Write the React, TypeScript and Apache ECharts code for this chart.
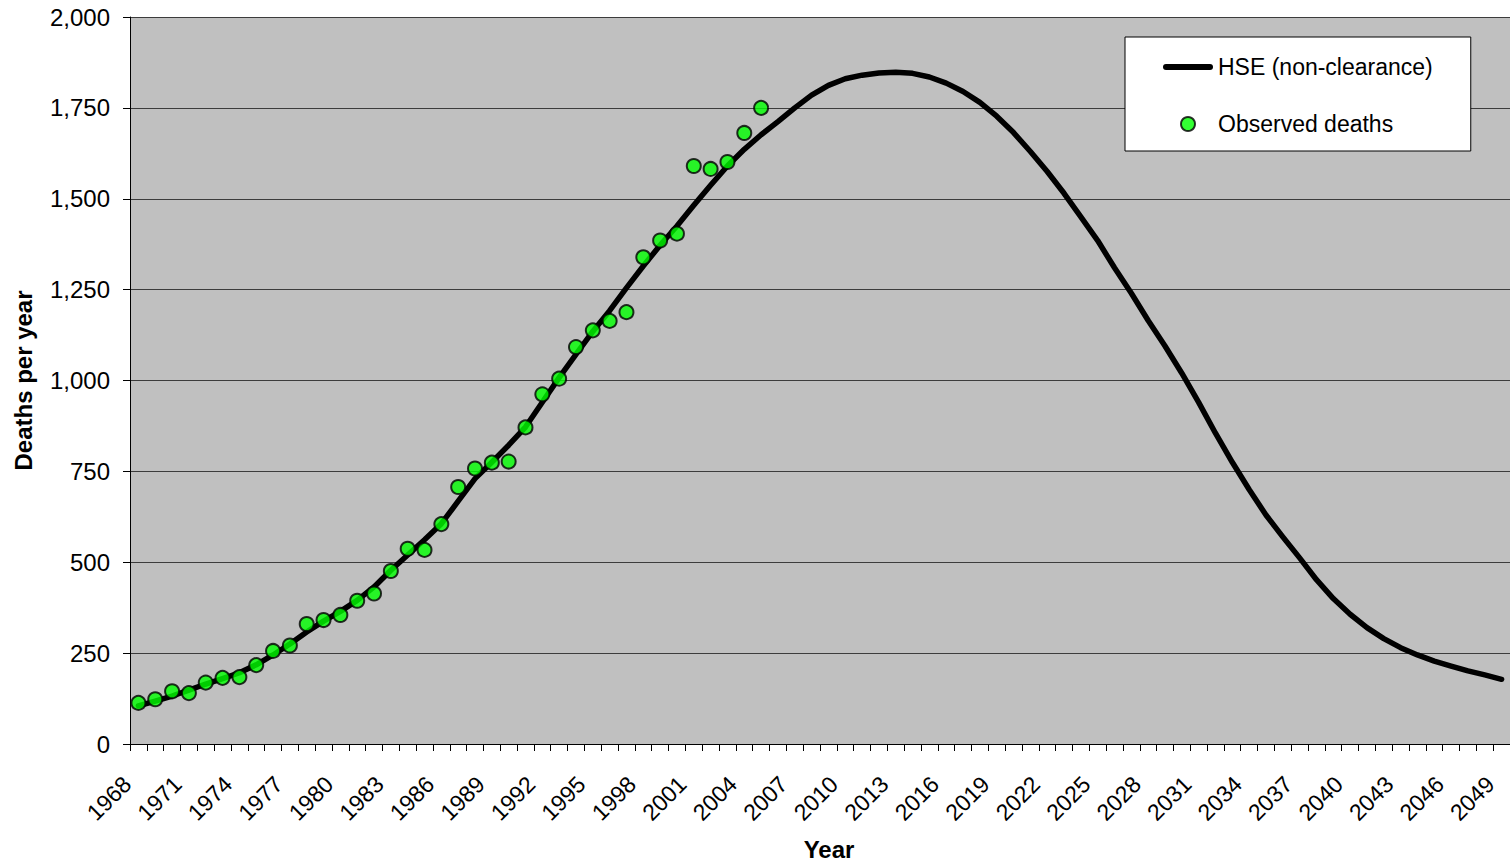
import React, { useEffect, useRef } from "react";
import * as echarts from "echarts";

const years: string[] = [
  "1968", "1969", "1970", "1971", "1972", "1973", "1974", "1975", "1976", "1977",
  "1978", "1979", "1980", "1981", "1982", "1983", "1984", "1985", "1986", "1987",
  "1988", "1989", "1990", "1991", "1992", "1993", "1994", "1995", "1996", "1997",
  "1998", "1999", "2000", "2001", "2002", "2003", "2004", "2005", "2006", "2007",
  "2008", "2009", "2010", "2011", "2012", "2013", "2014", "2015", "2016", "2017",
  "2018", "2019", "2020", "2021", "2022", "2023", "2024", "2025", "2026", "2027",
  "2028", "2029", "2030", "2031", "2032", "2033", "2034", "2035", "2036", "2037",
  "2038", "2039", "2040", "2041", "2042", "2043", "2044", "2045", "2046", "2047",
  "2048", "2049",
];

const hseProjection: number[] = [
  105, 118, 132, 148, 165, 180, 196, 218, 245, 275,
  308, 338, 365, 395, 432, 478, 520, 562, 606, 668,
  730, 775, 822, 872, 940, 1008, 1072, 1135, 1192, 1255,
  1315, 1372, 1425, 1482, 1537, 1590, 1636, 1676, 1712, 1750,
  1785, 1812, 1830, 1840, 1846, 1848, 1845, 1835, 1818, 1795,
  1765, 1727, 1682, 1630, 1575, 1515, 1450, 1385, 1310, 1240,
  1165, 1095, 1020, 940, 855, 775, 700, 630, 570, 512,
  452, 400, 357, 320, 290, 265, 245, 228, 214, 201,
  190, 178,
];

const observedDeaths: number[] = [
  113, 123, 145, 140, 169, 182, 184, 217, 256, 271,
  330, 341, 355, 394, 414, 476, 537, 534, 605, 707,
  758, 774, 777, 871, 962, 1005, 1092, 1138, 1164, 1188,
  1339, 1385, 1404, 1590, 1582, 1601, 1681, 1750,
];

const seriesNames = ["HSE (non-clearance)", "Observed deaths"];
const axisNames = { x: "Year", y: "Deaths per year" };

const FONT = "'Liberation Sans', Arial, Helvetica, sans-serif";
const LINE_ICON =
  "path://M3,0 L47,0 A3,3 0 0 1 47,6 L3,6 A3,3 0 0 1 3,0 Z";

export default function App() {
  const ref = useRef<HTMLDivElement>(null);

  useEffect(() => {
    if (!ref.current) return;
    const chart = echarts.init(ref.current, null, { renderer: "svg" });
    chart.setOption({
      animation: false,
      textStyle: { fontFamily: FONT },
      grid: {
        left: 130,
        right: 0,
        top: 17,
        bottom: 119,
        containLabel: false,
        outerBoundsMode: "none",
        show: true,
        backgroundColor: "#C0C0C0",
        borderWidth: 0,
      },
      legend: {
        orient: "vertical",
        left: 1125,
        top: 37,
        padding: [17, 38, 14, 38],
        itemGap: 31,
        itemWidth: 50,
        itemHeight: 14,
        backgroundColor: "#FFFFFF",
        borderColor: "#000000",
        borderWidth: 1,
        textStyle: { fontSize: 23, color: "#000", fontFamily: FONT, lineHeight: 26 },
        data: [
          { name: seriesNames[0], icon: LINE_ICON, itemStyle: { color: "#000" } },
          { name: seriesNames[1], icon: "circle" },
        ],
      },
      xAxis: {
        type: "category",
        data: years,
        boundaryGap: true,
        name: axisNames.x,
        nameLocation: "middle",
        nameGap: 93,
        nameTextStyle: {
          fontSize: 24,
          fontWeight: "bold",
          color: "#000",
          fontFamily: FONT,
          padding: [0, 0, 0, 18],
        },
        axisLine: { show: true, lineStyle: { color: "#000", width: 1 } },
        axisTick: { show: true, interval: 0, length: 7, lineStyle: { color: "#000" } },
        axisLabel: {
          interval: 2,
          rotate: 45,
          fontSize: 23,
          color: "#000",
          fontFamily: FONT,
          margin: 25,
          padding: [0, 16, 0, 0],
        },
        splitLine: { show: false },
      },
      yAxis: {
        type: "value",
        min: 0,
        max: 2000,
        interval: 250,
        name: axisNames.y,
        nameLocation: "middle",
        nameGap: 95,
        nameTextStyle: {
          fontSize: 24,
          fontWeight: "bold",
          color: "#000",
          fontFamily: FONT,
        },
        axisLine: { show: true, lineStyle: { color: "#000", width: 1 } },
        axisTick: { show: true, length: 7, lineStyle: { color: "#000" } },
        axisLabel: {
          fontSize: 24,
          color: "#000",
          fontFamily: FONT,
          margin: 20,
          formatter: (v: number) => v.toLocaleString("en-US"),
        },
        splitLine: { show: true, lineStyle: { color: "#3c3c3c", width: 1 } },
      },
      series: [
        {
          name: seriesNames[0],
          type: "line",
          data: hseProjection,
          showSymbol: false,
          symbol: "none",
          smooth: false,
          lineStyle: { color: "#000", width: 5.5, cap: "round", join: "round" },
          itemStyle: { color: "#000" },
          z: 2,
        },
        {
          name: seriesNames[1],
          type: "scatter",
          data: observedDeaths,
          symbol: "circle",
          symbolSize: 14,
          itemStyle: { color: "#00FF00", borderColor: "#000", borderWidth: 2 },
          z: 3,
        },
      ],
    });
    return () => chart.dispose();
  }, []);

  return (
    <div
      ref={ref}
      style={{ position: "fixed", left: 0, top: 0, width: 1510, height: 863, background: "#fff" }}
    />
  );
}
